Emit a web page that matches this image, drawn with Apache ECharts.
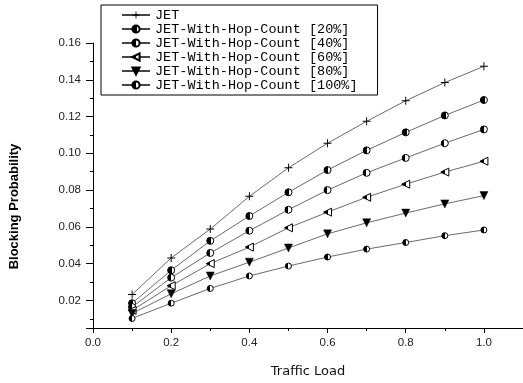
<!DOCTYPE html>
<html>
<head>
<meta charset="utf-8">
<script src="https://cdn.jsdelivr.net/npm/echarts@6/dist/echarts.min.js"></script>
<style>html,body{margin:0;padding:0;background:#fff}#c{width:523px;height:383px}</style>
</head>
<body>
<div id="c"></div>
<script>
var trafficLoad = [0.1, 0.2, 0.3, 0.4, 0.5, 0.6, 0.7, 0.8, 0.9, 1.0];
var seriesNames = ['JET', 'JET-With-Hop-Count [20%]', 'JET-With-Hop-Count [40%]', 'JET-With-Hop-Count [60%]', 'JET-With-Hop-Count [80%]', 'JET-With-Hop-Count [100%]'];
var jet      = [0.0232, 0.0431, 0.0588, 0.0766, 0.0921, 0.1055, 0.1174, 0.1286, 0.1385, 0.1473];
var hop20    = [0.0185, 0.0364, 0.0524, 0.0659, 0.0788, 0.0909, 0.1016, 0.1114, 0.1206, 0.1290];
var hop40    = [0.0164, 0.0324, 0.0458, 0.0579, 0.0693, 0.0800, 0.0894, 0.0975, 0.1055, 0.1130];
var hop60    = [0.0146, 0.0280, 0.0400, 0.0490, 0.0595, 0.0680, 0.0761, 0.0832, 0.0898, 0.0957];
var hop80    = [0.0129, 0.0236, 0.0333, 0.0408, 0.0485, 0.0562, 0.0622, 0.0675, 0.0725, 0.0770];
var hop100   = [0.0102, 0.0185, 0.0265, 0.0333, 0.0387, 0.0436, 0.0479, 0.0515, 0.0552, 0.0583];
var allValues = [jet, hop20, hop40, hop60, hop80, hop100];

function half(frac) {
  return {type: 'linear', x: 0, y: 0, x2: 1, y2: 0, colorStops: [
    {offset: 0, color: '#000'}, {offset: frac, color: '#000'},
    {offset: frac, color: '#fff'}, {offset: 1, color: '#fff'}]};
}
var styles = [
  {symbol: 'path://M4.4,0H5.6V4.4H10V5.6H5.6V10H4.4V5.6H0V4.4H4.4Z', size: 8, color: '#000', border: 0},
  {symbol: 'circle', size: 7, color: half(0.6), border: 1},
  {symbol: 'circle', size: 7, color: half(0.45), border: 1},
  {symbol: 'path://M0,5L10,0L10,10Z', size: 8, color: half(0.5), border: 1},
  {symbol: 'path://M0,0L10,0L5,9Z', size: 8, color: '#000', border: 0.5},
  {symbol: 'circle', size: 6, color: half(0.5), border: 1}
];

var series = allValues.map(function (vals, i) {
  var s = styles[i];
  return {
    name: seriesNames[i],
    type: 'line',
    data: trafficLoad.map(function (x, j) { return [x, vals[j]]; }),
    symbol: s.symbol,
    symbolSize: s.size,
    showAllSymbol: true,
    itemStyle: {color: s.color, borderColor: '#000', borderWidth: s.border, opacity: 1},
    lineStyle: {color: '#444', width: 0.8},
    emphasis: {disabled: true}
  };
});

var chart = echarts.init(document.getElementById('c'), null, {renderer: 'canvas'});
chart.setOption({
  animation: false,
  backgroundColor: '#fff',
  grid: {left: 89, right: 0, top: 43, bottom: 49, containLabel: false},
  legend: {
    orient: 'vertical', left: 101, top: 5,
    padding: [3, 20, 3, 20],
    itemWidth: 28, itemHeight: 9, itemGap: 0,
    borderColor: '#000', borderWidth: 1, backgroundColor: '#fff',
    textStyle: {fontFamily: 'Liberation Mono', fontSize: 13.5, color: '#000', lineHeight: 13.3},
    data: seriesNames
  },
  xAxis: {
    type: 'value', min: 0, max: 1.1, interval: 0.2,
    name: 'Traffic Load', nameLocation: 'middle', nameGap: 37,
    nameTextStyle: {fontFamily: 'DejaVu Sans', fontSize: 13, color: '#111'},
    axisLine: {show: true, lineStyle: {color: '#000', width: 1}},
    axisTick: {show: true, inside: false, length: 5, lineStyle: {color: '#000'}},
    minorTick: {show: true, splitNumber: 2, length: 3, lineStyle: {color: '#000'}},
    axisLabel: {fontFamily: 'Liberation Sans', fontSize: 11.5, color: '#222', margin: 9, showMaxLabel: false,
      formatter: function (v) { return v.toFixed(1); }},
    splitLine: {show: false}
  },
  yAxis: {
    type: 'value', min: 0.005, max: 0.16, splitNumber: 8,
    name: 'Blocking Probability', nameLocation: 'middle', nameGap: 72,
    nameTextStyle: {fontFamily: 'Liberation Sans', fontWeight: 'bold', fontSize: 13, color: '#000', padding: [0, 42, 0, 0]},
    axisLine: {show: true, lineStyle: {color: '#000', width: 1}},
    axisTick: {show: true, inside: false, length: 7, lineStyle: {color: '#000'}},
    minorTick: {show: true, splitNumber: 2, length: 3, lineStyle: {color: '#000'}},
    axisLabel: {fontFamily: 'Liberation Sans', fontSize: 11.5, color: '#222', margin: 12, showMinLabel: false,
      formatter: function (v) { return v.toFixed(2); }},
    splitLine: {show: false}
  },
  series: series
});
</script>
</body>
</html>
